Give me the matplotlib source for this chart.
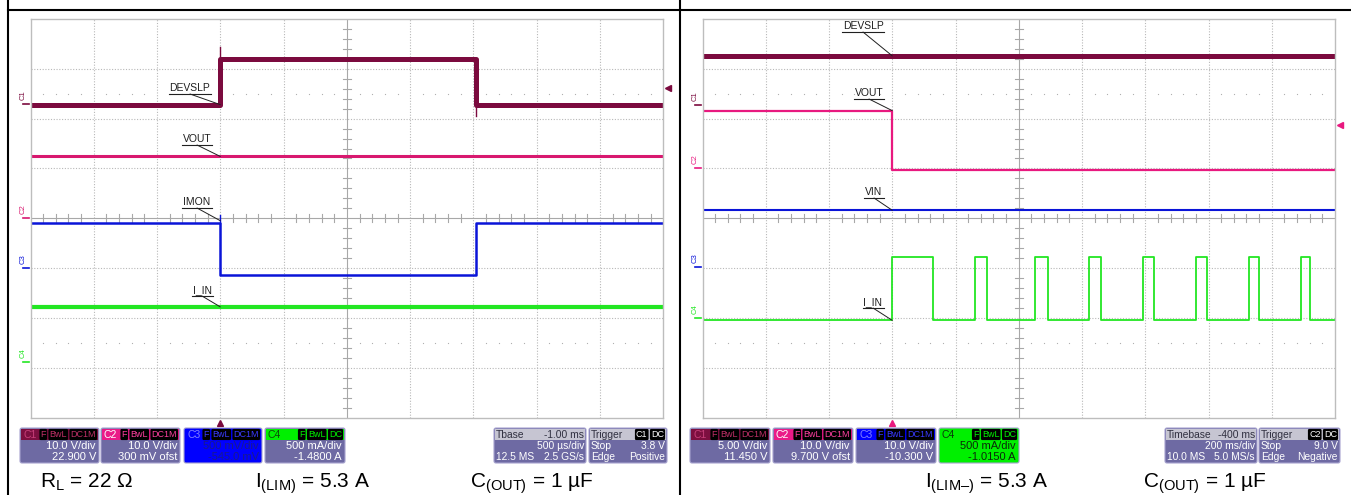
import numpy as np
import matplotlib
matplotlib.use('Agg')
import matplotlib.pyplot as plt
from matplotlib.patches import FancyBboxPatch, Rectangle, ConnectionPatch

plt.rcParams['font.family'] = ['Liberation Sans Narrow', 'Liberation Sans', 'DejaVu Sans']
plt.rcParams['mathtext.fontset'] = 'custom'
plt.rcParams['mathtext.rm'] = 'Liberation Sans'
plt.rcParams['mathtext.it'] = 'Liberation Sans'

W, H = 1351, 495

# ---- left capture (500 us/div, trigger at 0 ms), levels in screen divisions
left_trange = (-1.5, 3.5)
left_div = 0.5
left_devslp_t = [-1.5, 0.0, 2.02, 3.5]
left_devslp_v = [2.28, 3.20, 2.28, 2.28]
left_vout_t = [-1.5, 3.5]
left_vout_v = [1.24, 1.24]
left_imon_t = [-1.5, 0.0, 2.02, 3.5]
left_imon_v = [-0.10, -1.13, -0.10, -0.10]
left_iin_t = [-1.5, 3.5]
left_iin_v = [-1.78, -1.78]

# ---- right capture (200 ms/div, trigger at 0 ms)
right_trange = (-600, 1400)
right_div = 200
right_devslp_t = [-600, 1400]
right_devslp_v = [3.26, 3.26]
right_vout_t = [-600, 0, 1400]
right_vout_v = [2.16, 0.96, 0.96]
right_vin_t = [-600, 1400]
right_vin_v = [0.16, 0.16]
right_iin_on = [0, 262, 451, 622, 793, 960, 1128, 1292]
right_iin_off = [129, 300, 492, 660, 828, 995, 1160, 1321]
right_iin_low = -2.05
right_iin_high = -0.77

C1 = '#7b0a3e'
C2 = '#d8186f'
C2R = '#e8197f'
C3 = '#0a14d8'
C4 = '#22e622'

fig = plt.figure(figsize=(W / 100, H / 100), dpi=100)
over = fig.add_axes([0, 0, 1, 1], zorder=3)
over.set_xlim(0, W)
over.set_ylim(H, 0)
over.axis('off')

# table frame
over.plot([8, W], [9.5, 9.5], color='black', lw=1.5)
over.plot([8, 8], [0, H], color='black', lw=1.5)
over.plot([679.5, 679.5], [0, H], color='black', lw=1.5)

GT, GB = 19, 417.5


def scope_panel(x0, x1, trange, div):
    ax = fig.add_axes([x0 / W, 1 - GB / H, (x1 - x0) / W, (GB - GT) / H], zorder=1)
    ax.set_xlim(trange)
    ax.set_ylim(-4, 4)
    ax.set_xticks([])
    ax.set_yticks([])
    for s in ax.spines.values():
        s.set_color('#bdbdbd')
        s.set_linewidth(1.0)
    t0 = trange[0]
    for i in range(1, 10):
        if i != 5:
            ax.axvline(t0 + i * div, color='#b8b8b8', lw=0.8, ls=(0, (1, 1.5)))
    for j in range(-3, 4):
        if j != 0:
            ax.axhline(j, color='#b8b8b8', lw=0.8, ls=(0, (1, 1.5)))
    xc = t0 + 5 * div
    ax.axvline(xc, color='#a8a8a8', lw=0.8)
    ax.axhline(0, color='#a8a8a8', lw=0.8)
    # minor ticks on centre axes
    for k in range(1, 50):
        if k % 5:
            x = t0 + k * div / 5
            ax.plot([x, x], [-0.08, 0.08], color='#a8a8a8', lw=0.8)
    for k in range(-19, 20):
        if k % 5:
            y = k / 5
            ax.plot([xc - 0.065 * div, xc + 0.065 * div], [y, y], color='#a8a8a8', lw=0.8)
    # sparse dot rows
    xs = [t0 + k * div / 5 for k in range(1, 50) if k % 5]
    for y in (2.5, -2.5):
        ax.plot(xs, [y] * len(xs), ls='none', marker='s', ms=0.8, color='#b0b0b0', mec='none')
    return ax


axL = scope_panel(30.5, 663.3, left_trange, left_div)
axR = scope_panel(702.5, 1335.0, right_trange, right_div)

# left traces
axL.plot(left_devslp_t, left_devslp_v, drawstyle='steps-post', color=C1, lw=3.6, solid_capstyle='butt')
axL.plot([0, 0], [3.2, 3.44], color=C1, lw=1)
axL.plot([2.02, 2.02], [2.28, 2.05], color=C1, lw=1)
axL.plot(left_vout_t, left_vout_v, color=C2, lw=2.2)
axL.plot(left_imon_t, left_imon_v, drawstyle='steps-post', color=C3, lw=1.8)
axL.plot([0, 0], [-0.1, 0.06], color=C3, lw=1)
axL.plot(left_iin_t, left_iin_v, color=C4, lw=3.0)

# right traces
axR.plot(right_devslp_t, right_devslp_v, color=C1, lw=3.6)
axR.plot(right_vout_t, right_vout_v, drawstyle='steps-post', color=C2R, lw=1.6)
axR.plot(right_vin_t, right_vin_v, color=C3, lw=1.5)
iin_t = [right_trange[0]]
iin_v = [right_iin_low]
for a, b in zip(right_iin_on, right_iin_off):
    iin_t += [a, b]
    iin_v += [right_iin_high, right_iin_low]
iin_t.append(right_trange[1])
iin_v.append(right_iin_low)
axR.plot(iin_t, iin_v, drawstyle='steps-post', color=C4, lw=1.3)

# trigger markers
axL.plot([0], [-4.12], marker='^', ms=4, color=C1, clip_on=False)
axR.plot([0], [-4.12], marker='^', ms=4, color=C2R, clip_on=False)
axL.plot([left_trange[1] + 0.04], [2.62], marker='<', ms=4, color=C1, clip_on=False)
axR.plot([right_trange[1] + 16], [1.88], marker='<', ms=4, color=C2R, clip_on=False)

# channel ground markers
for ax, marks in ((axL, [('C1', 2.3, C1), ('C2', 0.0, C2), ('C3', -1.0, C3), ('C4', -2.88, C4)]),
                  (axR, [('C1', 2.28, C1), ('C2', 1.0, C2R), ('C3', -0.98, C3), ('C4', -2.0, C4)])):
    tr = ax.get_yaxis_transform()
    for name, y, col in marks:
        ax.text(-0.006, y + 0.08, name, transform=tr, rotation=90, fontsize=5.5,
                color=col, ha='right', va='bottom', clip_on=False)
        ax.plot([-0.012, -0.002], [y, y], transform=tr, color=col, lw=1.2, clip_on=False)

# trace labels with leaders
labels = [
    (axL, 'DEVSLP', 190, 88, 0.0, 2.28),
    (axL, 'VOUT', 197, 139, 0.0, 1.24),
    (axL, 'IMON', 197, 202, 0.0, -0.05),
    (axL, 'I_IN', 202, 290, 0.0, -1.78),
    (axR, 'DEVSLP', 863, 26, 0.0, 3.26),
    (axR, 'VOUT', 869, 93, 0.0, 2.16),
    (axR, 'VIN', 874, 192, 0.0, 0.16),
    (axR, 'I_IN', 873, 302, 0.0, right_iin_low),
]
fig.canvas.draw()
rend = fig.canvas.get_renderer()
for ax, lab, x, y, tt, vv in labels:
    t = over.text(x, y, lab, fontsize=7.5, color='#202020', ha='center', va='center', zorder=5)
    w = t.get_window_extent(rend).width
    over.plot([x - w / 2 - 1, x + w / 2 + 1], [y + 6, y + 6], color='#202020', lw=0.8, zorder=5)
    cp = ConnectionPatch(xyA=(x, y + 6), coordsA=over.transData, xyB=(tt, vv), coordsB=ax.transData,
                         color='#202020', lw=0.7, zorder=6)
    fig.add_artist(cp)

# ---- info boxes
BODY = '#6e6aa3'
EDGE = '#a7a3cf'
Y0, Y1 = 428, 463


def badge_row(xr, yc, badges, fg, fs=6.5):
    for b in reversed(badges):
        t = over.text(xr, yc, b, color=fg, fontsize=fs, ha='right', va='center', zorder=4,
                      bbox=dict(boxstyle='round,pad=0.12,rounding_size=0.15', fc='black', ec='none'))
        xr -= t.get_window_extent(rend).width + 3.5


def chan_box(x0, x1, name, head, name_col, badge_col, badges, lines, body=BODY, txt='white'):
    over.add_patch(FancyBboxPatch((x0, Y0), x1 - x0, Y1 - Y0, boxstyle='round,pad=0,rounding_size=2',
                                  fc=body, ec=EDGE, lw=0.8, zorder=2))
    over.add_patch(Rectangle((x0 + 1, Y0 + 1), x1 - x0 - 2, 10.5, fc=head, ec='none', zorder=3))
    over.text(x0 + 3, Y0 + 6.5, name, color=name_col, fontsize=7.5, ha='left', va='center', zorder=4)
    badge_row(x1 - 3, Y0 + 6.5, badges, badge_col)
    over.text(x1 - 3, 446, lines[0], color=txt, fontsize=8, ha='right', va='center', zorder=4)
    over.text(x1 - 3, 457.5, lines[1], color=txt, fontsize=8, ha='right', va='center', zorder=4)


def info_box(x0, x1, title, right_head, rows, badges=None, fs=7.4):
    over.add_patch(FancyBboxPatch((x0, Y0), x1 - x0, Y1 - Y0, boxstyle='round,pad=0,rounding_size=2',
                                  fc=BODY, ec=EDGE, lw=0.8, zorder=2))
    over.add_patch(Rectangle((x0 + 1, Y0 + 1), x1 - x0 - 2, 10.5, fc='#c6c5d2', ec='none', zorder=3))
    over.text(x0 + 2, Y0 + 6.5, title, color='#303040', fontsize=fs, ha='left', va='center', zorder=4)
    if badges:
        badge_row(x1 - 3, Y0 + 6.5, badges, 'white')
    else:
        over.text(x1 - 2, Y0 + 6.5, right_head, color='#303040', fontsize=fs, ha='right', va='center', zorder=4)
    for (lt, rt), yc in zip(rows, (446, 457.5)):
        if lt:
            over.text(x0 + 2, yc, lt, color='white', fontsize=fs, ha='left', va='center', zorder=4)
        over.text(x1 - 2, yc, rt, color='white', fontsize=fs, ha='right', va='center', zorder=4)


FB3 = ['F', 'BwL', 'DC1M']
FB2 = ['F', 'BwL', 'DC']

chan_box(20, 99, 'C1', '#7d0f40', '#c8407a', '#c03068', FB3, ['10.0 V/div', '22.900 V'])
chan_box(101, 180, 'C2', '#ea1a88', 'white', '#ff40a0', FB3, ['10.0 V/div', '300 mV ofst'])
chan_box(184, 262, 'C3', '#0000ff', '#8080ff', '#3a3aff', FB3, ['500 mV/div', '-545.0 mV'],
         body='#0000ff', txt='#1a1a8c')
chan_box(265, 345, 'C4', '#00f000', '#0a4a0a', '#00f000', FB2, ['500 mA/div', '-1.4800 A'])
info_box(494, 586, 'Tbase', '-1.00 ms', [('', '500 µs/div'), ('12.5 MS', '2.5 GS/s')])
info_box(589, 667, 'Trigger', None, [('Stop', '3.8 V'), ('Edge', 'Positive')], badges=['C1', 'DC'])

chan_box(690, 770, 'C1', '#7d0f40', '#c8407a', '#c03068', FB3, ['5.00 V/div', '11.450 V'])
chan_box(773, 853, 'C2', '#ea1a88', 'white', '#ff40a0', FB3, ['10.0 V/div', '9.700 V ofst'])
chan_box(856, 936, 'C3', '#0000ff', '#8080ff', '#3a3aff', FB3, ['10.0 V/div', '-10.300 V'])
chan_box(939, 1019, 'C4', '#00f000', '#0a3a0a', '#00f000', FB2, ['500 mA/div', '-1.0150 A'],
         body='#00f000', txt='#0a2a0a')
info_box(1165, 1257, 'Timebase', '-400 ms', [('', '200 ms/div'), ('10.0 MS', '5.0 MS/s')])
info_box(1259, 1340, 'Trigger', None, [('Stop', '9.0 V'), ('Edge', 'Negative')], badges=['C2', 'DC'])

# conditions under each capture
cond = dict(fontsize=15, color='black', ha='left', va='baseline', family='Liberation Sans')
over.text(40, 488, r'R$_\mathrm{L}$ = 22 Ω', **cond)
over.text(255, 488, r'I$_\mathrm{(LIM)}$ = 5.3 A', **cond)
over.text(470, 488, r'C$_\mathrm{(OUT)}$ = 1 µF', **cond)
over.text(925, 488, 'I$_\\mathrm{(LIM\u2013)}$ = 5.3 A', **cond)
over.text(1143, 488, r'C$_\mathrm{(OUT)}$ = 1 µF', **cond)

fig.savefig('out.png', dpi=100)
